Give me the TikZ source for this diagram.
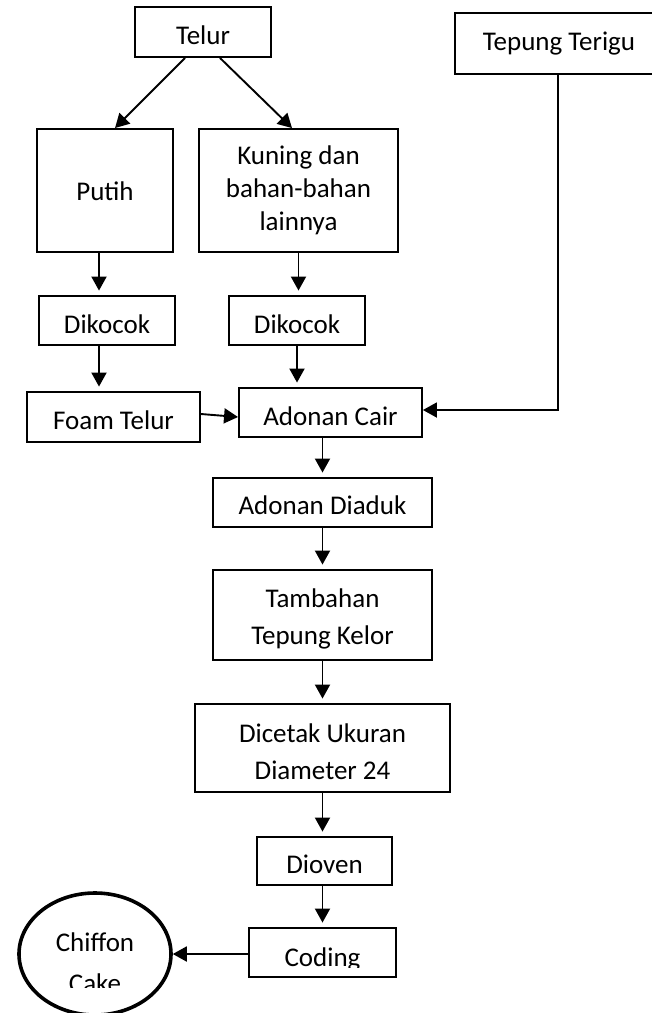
\documentclass[tikz,border=0pt]{standalone}
\usepackage{fontspec}
\setmainfont{Carlito}
\usetikzlibrary{arrows.meta,calc,shapes.geometric}
\begin{document}
\begin{tikzpicture}[x=1pt,y=-1pt,
  box/.style={draw, line width=1.9pt, inner sep=0pt, align=center,
    font=\fontsize{27}{37}\selectfont},
  one/.style={box, text height=25pt, text depth=0pt},
  txt/.style={inner sep=0pt, font=\fontsize{27}{37}\selectfont},
  arr/.style={line width=1.9pt, -{Triangle[length=14pt,width=15pt]}},
  gap/.style={shorten >=4.5pt}]
\useasboundingbox (0,0) rectangle (652,1013);
% boxes
\node[one, minimum width=136pt, minimum height=50pt, text height=24pt] (telur) at (203,32) {Telur};
\node[box, minimum width=206pt, minimum height=61pt, text height=19pt, text depth=6pt] (tepung) at (558,43.5) {\hspace*{2pt}Tepung Terigu};
\node[box, minimum width=136pt, minimum height=123pt, text height=19pt, text depth=0pt] (putih) at (105,190.5) {Putih};
\node[box, minimum width=199pt, minimum height=123pt, font=\fontsize{27}{33}\selectfont] (kuning) at (298.5,190.5) {Kuning dan\\bahan-bahan\\lainnya};
\node[one, minimum width=136pt, minimum height=49pt, text height=26pt] (dik1) at (107,320.5) {Dikocok};
\node[one, minimum width=136pt, minimum height=49pt, text height=26pt] (dik2) at (297,320.5) {Dikocok};
\node[one, minimum width=173pt, minimum height=50pt] (foam) at (113.5,417) {Foam Telur};
\node[one, minimum width=183pt, minimum height=49pt] (cair) at (330.5,412.5) {Adonan Cair};
\node[one, minimum width=219pt, minimum height=49pt, text height=23pt] (diaduk) at (322.5,502.5) {Adonan Diaduk};
\node[box, minimum width=219pt, minimum height=90pt] (tambahan) at (322.5,615) {\rule{0pt}{26pt}Tambahan\\Tepung Kelor};
\node[box, minimum width=255pt, minimum height=88pt] (dicetak) at (322.5,748) {\rule{0pt}{26pt}Dicetak Ukuran\\Diameter 24};
\node[one, minimum width=135pt, minimum height=48pt, text height=24pt] (dioven) at (324.5,861) {Dioven};
\node[box, minimum width=147pt, minimum height=49pt] (coding) at (322.5,952.5) {};
\node[draw, ellipse, line width=3.6pt, inner sep=0pt, minimum width=152pt, minimum height=122pt] (cake) at (95,954) {};
% clipped texts
\begin{scope}
  \clip (0,0) rectangle (652,967);
  \node[txt, anchor=base] (codingtxt) at (322.5,966) {Coding};
\end{scope}
\begin{scope}
  \clip (0,0) rectangle (652,987);
  \node[txt, anchor=base] (chiffontxt) at (95,951) {Chiffon};
  \node[txt, anchor=base] (caketxt) at (95,992) {Cake};
\end{scope}
% connectors
\draw[arr] ([xshift=-18pt]telur.south) -- ([xshift=10pt]putih.north);
\draw[arr] ([xshift=17pt]telur.south) -- ([xshift=-6.5pt]kuning.north);
\draw[arr,gap] ([xshift=-6pt]putih.south) -- ([xshift=-6pt]putih.south |- dik1.north);
\draw[arr,gap] (kuning.south) -- (kuning.south |- dik2.north);
\draw[arr,gap] ([xshift=-8pt]dik1.south) -- ([xshift=-8pt]dik1.south |- foam.north);
\draw[arr,gap] (dik2.south) -- (dik2.south |- cair.north);
\draw[arr] ([yshift=3pt]foam.east) -- ([yshift=-4.5pt]cair.west);
\draw[arr] (tepung.south) |- ([yshift=2.5pt]cair.east);
\draw[arr,gap] (diaduk.north |- cair.south) -- (diaduk.north);
\draw[arr,gap] (diaduk.south) -- (tambahan.north);
\draw[arr,gap] (tambahan.south) -- (dicetak.north);
\draw[arr,gap] (dicetak.south) -- (dicetak.south |- dioven.north);
\draw[arr,gap] (coding.north |- dioven.south) -- (coding.north);
\draw[arr] (coding.west |- cake.east) -- (cake.east);
\end{tikzpicture}
\end{document}
